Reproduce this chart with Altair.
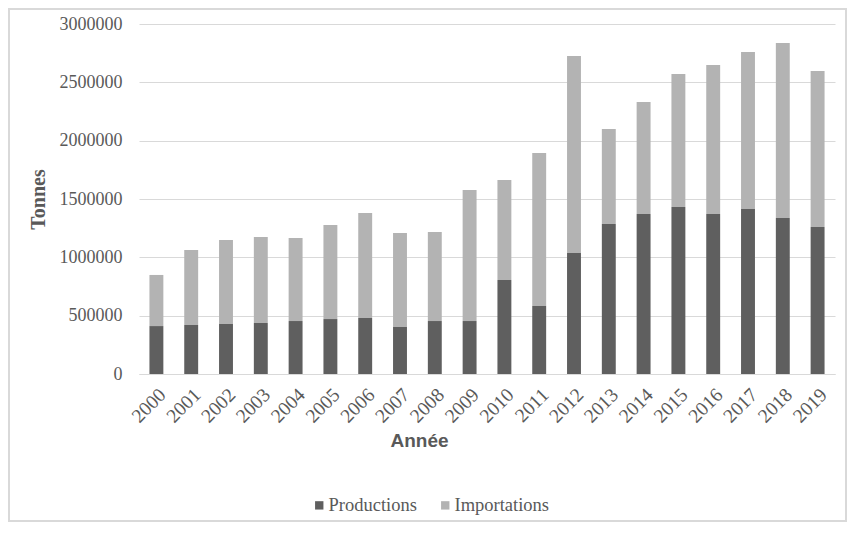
import altair as alt
import pandas as pd

years = [str(y) for y in range(2000, 2020)]
productions = [411000, 420000, 429000, 437000, 454000, 471000, 480000, 403000, 454000, 454000,
               806000, 583000, 1037000, 1286000, 1371000, 1431000, 1371000, 1414000, 1337000, 1260000]
importations = [438000, 643000, 720000, 737000, 712000, 806000, 900000, 806000, 763000, 1123000,
                857000, 1311000, 1689000, 814000, 960000, 1140000, 1278000, 1346000, 1500000, 1337000]
series = ["Productions", "Importations"]
y_ticks = [0, 500000, 1000000, 1500000, 2000000, 2500000, 3000000]

rows = []
for i, yr in enumerate(years):
    rows.append({"Année": yr, "Type": series[0], "Tonnes": productions[i], "ord": 0})
    rows.append({"Année": yr, "Type": series[1], "Tonnes": importations[i], "ord": 1})
df = pd.DataFrame(rows)

W, H = 696, 350
PL, PT, PR, PB = 131, 16, 12, 148

serif = "Liberation Serif"
grey = "#595959"

bars = alt.Chart(df).mark_bar().encode(
    x=alt.X("Année:N", sort=years,
            scale=alt.Scale(paddingInner=0.6, paddingOuter=0.3),
            axis=alt.Axis(labelAngle=-45, labelFont=serif, labelFontSize=19.5, labelColor=grey,
                          labelPadding=11, ticks=False, domainColor="#d9d9d9", domainWidth=1,
                          title="Année", titleFont="Liberation Sans", titleFontSize=19,
                          titleFontWeight="bold", titleColor=grey,
                          titleX=280, titleY=66, titleAlign="center", titleBaseline="middle")),
    y=alt.Y("Tonnes:Q", stack="zero",
            scale=alt.Scale(domain=[0, 3000000]),
            axis=alt.Axis(values=y_ticks, format="d", labelFont=serif, labelFontSize=18,
                          labelColor=grey, labelPadding=17, ticks=False, domain=False,
                          gridColor="#d9d9d9", gridWidth=1.2,
                          title="Tonnes", titleFont=serif, titleFontSize=20,
                          titleFontWeight="bold", titleColor=grey, titlePadding=11)),
    color=alt.Color("Type:N", sort=series,
                    scale=alt.Scale(domain=series, range=["#5f5f5f", "#b3b3b3"]),
                    legend=alt.Legend(title=None, orient="none", direction="horizontal",
                                      legendX=171, legendY=472, symbolType="square",
                                      symbolSize=70, symbolStrokeWidth=0,
                                      labelFont=serif, labelFontSize=18.5, labelColor=grey,
                                      labelOffset=0, columnPadding=19)),
    order=alt.Order("ord:Q"),
)

frame_df = pd.DataFrame({"f": [1]})
frame = alt.Chart(frame_df).mark_rect(fill=None, stroke="#d9d9d9", strokeWidth=2).encode(
    x=alt.value(-PL + 1), x2=alt.value(W + PR - 1),
    y=alt.value(-PT + 1), y2=alt.value(H + PB - 1),
)

chart = alt.layer(bars, frame).properties(
    width=W, height=H,
    autosize=alt.AutoSizeParams(type="none"),
    padding={"left": PL, "top": PT, "right": PR, "bottom": PB},
).configure_view(stroke=None)

chart.save("out.html", embed_options={"renderer": "svg", "actions": False})
